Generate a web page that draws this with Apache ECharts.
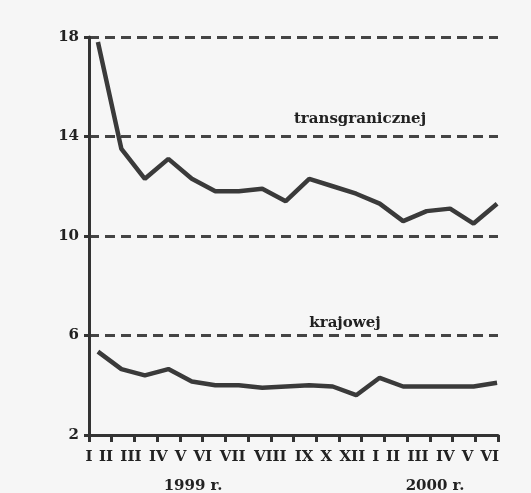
<!DOCTYPE html>
<html>
<head>
<meta charset="utf-8">
<script src="https://cdn.jsdelivr.net/npm/echarts@6/dist/echarts.min.js"></script>
<style>
  html, body { margin: 0; padding: 0; background: #f6f6f6; }
  #chart { width: 531px; height: 493px; }
</style>
</head>
<body>
<div id="chart"></div>
<script>
// miesiące I.1999 - VI.2000, jeden punkt na miesiąc
const months = ['I', 'II', 'III', 'IV', 'V', 'VI', 'VII', 'VIII', 'IX', 'X', 'XI', 'XII', 'I', 'II', 'III', 'IV', 'V', 'VI']
const transgraniczna = [17.8, 13.5, 12.3, 13.1, 12.3, 11.8, 11.8, 11.9, 11.4, 12.3, 12.0, 11.7, 11.3, 10.6, 11.0, 11.1, 10.5, 11.3]
const krajowa = [5.35, 4.65, 4.4, 4.65, 4.15, 4.0, 4.0, 3.9, 3.95, 4.0, 3.95, 3.6, 4.3, 3.95, 3.95, 3.95, 3.95, 4.1]
// podpisy pod osią tak jak w oryginale (bez XI)
const tickLabels = ['I', 'II', 'III', 'IV', 'V', 'VI', 'VII', 'VIII', 'IX', 'X', 'XII', 'I', 'II', 'III', 'IV', 'V', 'VI']
const years = ['1999 r.', '2000 r.']
const seriesNames = ['transgranicznej', 'krajowej']

const ink = '#333'
const serif = '"DejaVu Serif", "Liberation Serif", serif'

const chart = echarts.init(document.getElementById('chart'))

const gridLeft = 89, gridRight = 33
const xMin = -0.38, xMax = 17.04
const plotW = 531 - gridLeft - gridRight
const toVal = px => xMin + (px - gridLeft) / plotW * (xMax - xMin)

// 19 kresek na osi X
const tickVals = []
for (let k = 0; k <= 18; k++) tickVals.push(xMin + k * (xMax - xMin) / 18)

// podpisy rozstawione jak zwykły tekst oddzielony spacjami
const ctx = document.createElement('canvas').getContext('2d')
ctx.font = 'bold 15px ' + serif
const space = ctx.measureText(' ').width
const widths = tickLabels.map(t => ctx.measureText(t).width)
const total = widths.reduce((a, b) => a + b, 0) + space * (tickLabels.length - 1)
const scale = (500 - 85) / total
let cur = 0
const labelVals = widths.map(w => {
  const c = cur + w / 2
  cur += w + space
  return Math.min(xMax, Math.max(xMin, toVal(85 + c * scale)))
})

const option = {
  backgroundColor: '#f6f6f6',
  animation: false,
  grid: { left: gridLeft, right: gridRight, top: 37, bottom: 58 },
  xAxis: {
    type: 'value',
    min: xMin,
    max: xMax,
    axisLine: { onZero: false, lineStyle: { color: ink, width: 3 } },
    axisTick: { show: true, customValues: tickVals, length: 7, lineStyle: { color: ink, width: 3 } },
    axisLabel: {
      customValues: labelVals,
      showMinLabel: true,
      showMaxLabel: true,
      formatter: v => {
        let best = 0
        labelVals.forEach((p, i) => { if (Math.abs(p - v) < Math.abs(labelVals[best] - v)) best = i })
        return tickLabels[best]
      },
      margin: 15,
      color: '#222',
      fontFamily: serif,
      fontWeight: 'bold',
      fontSize: 15
    },
    splitLine: { show: false }
  },
  yAxis: {
    type: 'value',
    min: 2,
    max: 18,
    interval: 4,
    axisLine: { show: true, onZero: false, lineStyle: { color: ink, width: 3 } },
    axisTick: { show: true, length: 5, lineStyle: { color: ink, width: 3 } },
    axisLabel: { color: '#222', fontFamily: serif, fontWeight: 'bold', fontSize: 15, margin: 10 },
    splitLine: { show: true, lineStyle: { color: '#444', width: 3, type: [10, 6] } }
  },
  series: [
    {
      name: seriesNames[0],
      type: 'line',
      data: transgraniczna.map((v, i) => [i, v]),
      showSymbol: false,
      lineStyle: { color: '#3a3a3a', width: 4.5 }
    },
    {
      name: seriesNames[1],
      type: 'line',
      data: krajowa.map((v, i) => [i, v]),
      showSymbol: false,
      lineStyle: { color: '#3a3a3a', width: 4.5 }
    }
  ],
  graphic: [
    { type: 'text', x: 360, y: 119, style: { text: seriesNames[0], font: 'bold 15px ' + serif, fill: '#222', align: 'center', verticalAlign: 'middle' } },
    { type: 'text', x: 345, y: 323, style: { text: seriesNames[1], font: 'bold 15px ' + serif, fill: '#222', align: 'center', verticalAlign: 'middle' } },
    { type: 'text', x: 193, y: 486, style: { text: years[0], font: 'bold 15px ' + serif, fill: '#222', align: 'center', verticalAlign: 'middle' } },
    { type: 'text', x: 435, y: 486, style: { text: years[1], font: 'bold 15px ' + serif, fill: '#222', align: 'center', verticalAlign: 'middle' } }
  ]
}

chart.setOption(option)
</script>
</body>
</html>
